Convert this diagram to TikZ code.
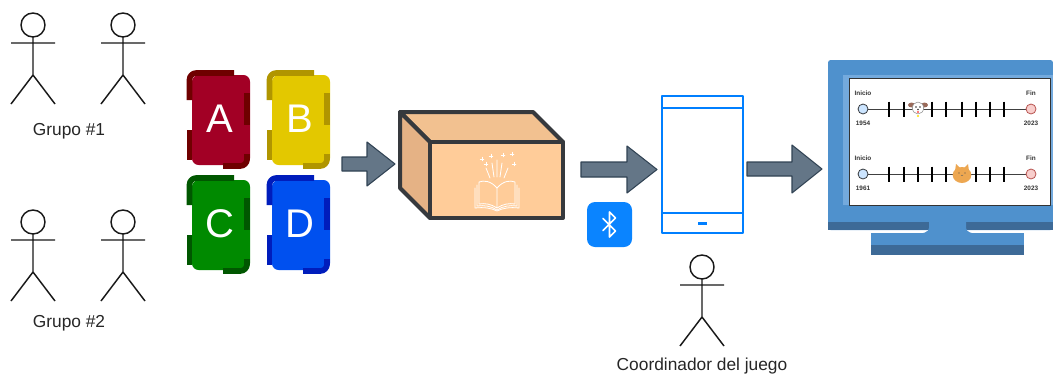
\documentclass[tikz,border=0pt]{standalone}
\usepackage{fontspec}
\setmainfont{Liberation Sans}
\definecolor{redF}{HTML}{A20025}\definecolor{redE}{HTML}{6F0000}
\definecolor{yelF}{HTML}{E3C800}\definecolor{yelE}{HTML}{B09500}
\definecolor{grnF}{HTML}{008A00}\definecolor{grnE}{HTML}{005700}
\definecolor{bluF}{HTML}{0050EF}\definecolor{bluE}{HTML}{001DBC}
\definecolor{arrF}{HTML}{647687}\definecolor{arrE}{HTML}{314354}
\definecolor{boxFront}{HTML}{FFCC99}\definecolor{boxTop}{HTML}{F2C190}
\definecolor{boxSide}{HTML}{E5B285}\definecolor{boxEdge}{HTML}{36393D}
\definecolor{phoneBlue}{HTML}{007FFF}\definecolor{btBlue}{HTML}{0A84FF}
\definecolor{monA}{HTML}{4F91CD}\definecolor{monB}{HTML}{3D6A97}
\definecolor{monC}{HTML}{74AADD}
\definecolor{startF}{HTML}{CCE5FF}\definecolor{startE}{HTML}{36393D}
\definecolor{endF}{HTML}{F8CECC}\definecolor{endE}{HTML}{B85450}
\definecolor{catF}{HTML}{EDA751}\definecolor{dogE}{HTML}{9A6A5A}

% one letter card with a broken, darker rim
\newcommand{\cardbox}[6]{%
  \begin{scope}[shift={(#2,#3)}]
    \fill[#4, rounded corners=5pt] (5,5) rectangle (63,95);
    \draw[#5, rimline, rounded corners=5pt] (2.5,30) -- (2.5,3) -- (47,3);
    \draw[#5, rimline] (60,23) -- (60,55);
    \draw[#5, rimline, rounded corners=5pt] (36,96) -- (60,96) -- (60,84);
    \draw[#5, rimline] (2.5,60) -- (2.5,90);
    \node[cardletter] (#1) at (33,49) {#6};
  \end{scope}}

% one time line on the screen
\newcommand{\timeline}[5]{%
  \begin{scope}[shift={(0,#1)}]
    \draw[line width=0.6pt, black!75] (863,0) -- (1031,0);
    \foreach \tx in {#3} \draw[line width=1.5pt, black] (\tx,-7.5) -- (\tx,7.5);
    \node[tlcircle, fill=startF, draw=startE] (#2s) at (863,0) {};
    \node[tlcircle, fill=endF, draw=endE] (#2e) at (1031,0) {};
    \node[tltext] (#2a) at (863,-16) {Inicio};
    \node[tltext] (#2b) at (1031,-16) {Fin};
    \node[tltext] (#2c) at (863,14) {#4};
    \node[tltext] (#2d) at (1031,14) {#5};
  \end{scope}}

\begin{document}
\begin{tikzpicture}[x=0.75pt, y=-0.75pt, line join=round,
  actorline/.style={line width=1.1pt, black!90},
  lbl/.style={font=\fontsize{13}{15}\selectfont, text=black!85, inner sep=0pt},
  cardletter/.style={font=\fontsize{30}{32}\selectfont, text=white, inner sep=0pt},
  rimline/.style={line width=4.2pt},
  blockarrow/.style={fill=arrF, draw=arrE, line width=0.8pt},
  boxface/.style={draw=boxEdge, line width=3pt},
  tlcircle/.style={circle, minimum size=7.5pt, inner sep=0pt, line width=0.6pt},
  tltext/.style={font=\fontsize{4.8}{5}\selectfont\bfseries, text=black!80, inner sep=0pt},
  actor/.pic={
    \draw[actorline] (0,0) circle[radius=9pt];
    \draw[actorline] (0,12) -- (0,50) (-22,18) -- (22,18) (-22,79) -- (0,50) -- (22,79);
  }]
\useasboundingbox (0,0) rectangle (1053,375);

% ---- players ----
\pic (p1) at (33,25) {actor};
\pic (p2) at (123,25) {actor};
\node[lbl] (grp1) at (69,131) {Grupo \#1};
\pic (p3) at (33,222) {actor};
\pic (p4) at (123,222) {actor};
\node[lbl] (grp2) at (69,323) {Grupo \#2};

% ---- answer cards ----
\cardbox{cardA}{187}{70}{redF}{redE}{A}
\cardbox{cardB}{267}{70}{yelF}{yelE}{B}
\cardbox{cardC}{187}{175}{grnF}{grnE}{C}
\cardbox{cardD}{267}{175}{bluF}{bluE}{D}

% ---- block arrows ----
\draw[blockarrow] (342,157) -- (367,157) -- (367,142) -- (395,164) -- (367,186) -- (367,171) -- (342,171) -- cycle;
\draw[blockarrow] (581,162) -- (627,162) -- (627,146) -- (657,169.5) -- (627,193) -- (627,177) -- (581,177) -- cycle;
\draw[blockarrow] (747,162) -- (792,162) -- (792,145) -- (822,169) -- (792,193) -- (792,176) -- (747,176) -- cycle;

% ---- box ----
\filldraw[boxface, fill=boxTop] (400,112) -- (533,112) -- (563,142) -- (430,142) -- cycle;
\filldraw[boxface, fill=boxSide] (400,112) -- (430,142) -- (430,218) -- (400,188) -- cycle;
\filldraw[boxface, fill=boxFront] (430,142) rectangle (563,218);
\node[inner sep=0pt, minimum size=1pt] (box) at (497,180) {};
% book with sparkles
\begin{scope}[white, line width=0.6pt, line cap=round]
  \draw (497,188) .. controls (491,181) and (484,180) .. (479,182) -- (479,204)
        .. controls (485,203) and (491,204) .. (497,208) -- cycle;
  \draw (497,188) .. controls (503,181) and (510,180) .. (515,182) -- (515,204)
        .. controls (509,203) and (503,204) .. (497,208);
  \draw (477,185) -- (477,206) .. controls (484,205) and (491,206) .. (497,210)
        .. controls (503,206) and (510,205) .. (517,206) -- (517,185);
  \draw (475,188) -- (475,208) .. controls (484,207) and (491,208) .. (497,211)
        .. controls (503,208) and (510,207) .. (519,208) -- (519,188);
  \draw (490,178) -- (486,168) (494,177) -- (492,163) (497,177) -- (497,160)
        (500,177) -- (502,163) (504,178) -- (508,168);
  \foreach \sx/\sy in {482/159, 491/156, 503/155, 512/154, 514/164, 486/164}
    \draw (\sx-1.8,\sy) -- (\sx+1.8,\sy) (\sx,\sy-1.8) -- (\sx,\sy+1.8);
\end{scope}

% ---- phone ----
\draw[phoneBlue, line width=2pt] (662,96) rectangle (743,233);
\draw[phoneBlue, line width=1.6pt] (662,108) -- (743,108) (662,213) -- (743,213);
\fill[phoneBlue] (698,221.5) rectangle (707,224.5);
\node[inner sep=0pt, minimum size=1pt] (phone) at (702,165) {};

% ---- bluetooth badge ----
\fill[btBlue, rounded corners=6pt] (587,202) rectangle (632,247);
\node[inner sep=0pt, minimum size=1pt] (bt) at (609.5,224.5) {};
\draw[white, line width=1.3pt, line cap=round] (603,218.5) -- (615.5,231) -- (609.5,237) -- (609.5,212) -- (615.5,218) -- (603,230.5);

% ---- coordinator ----
\pic (coord) at (702,267) {actor};
\node[lbl] (coordlbl) at (702,366) {Coordinador del juego};

% ---- monitor ----
\fill[monA, rounded corners=2pt] (828,60) rectangle (1053,230);
\fill[monB] (828,222) rectangle (1053,230);
\fill[monC] (843,75) rectangle (1053,205);
\fill[monA] (929,221) -- (966,221) -- (966,228) .. controls (966,232) and (972,234) .. (980,234)
            -- (915,234) .. controls (923,234) and (929,232) .. (929,228) -- cycle;
\fill[monA] (871,233) rectangle (1024,245);
\fill[monB] (871,245) rectangle (1024,255);
\node[draw=black!80, fill=white, line width=0.6pt, inner sep=0pt, minimum width=150.75pt, minimum height=95.25pt] (screen) at (949.5,141.5) {};

\timeline{109}{ta}{889,904,932,946,962,976,990,1004}{1954}{2023}
\timeline{174}{tb}{889,904,918,932,946,976,990,1004}{1961}{2023}

% dog face
\begin{scope}[shift={(918,108)}]
  \fill[dogE] (-6.5,-3) ellipse[x radius=2.6pt, y radius=1.8pt];
  \fill[dogE] (6.5,-3) ellipse[x radius=2.6pt, y radius=1.8pt];
  \filldraw[fill=white, draw=black!45, line width=0.4pt] (0,0) ellipse[x radius=4.2pt, y radius=4.5pt];
  \fill[black!80] (-2,-1) circle[radius=0.6pt] (2,-1) circle[radius=0.6pt] (0,1.5) circle[radius=0.7pt];
  \fill[red!70] (0,4) circle[radius=0.8pt];
  \fill[yellow!80!orange] (0,8) circle[radius=0.9pt];
  \node[inner sep=0pt, minimum size=1pt] (dog) at (0,0) {};
\end{scope}
% cat face
\begin{scope}[shift={(962,174)}]
  \fill[catF] (-7,-3) -- (-6,-10) -- (-2,-6) -- (2,-6) -- (6,-10) -- (7,-3) -- cycle;
  \fill[catF] (0,1) ellipse[x radius=7pt, y radius=6pt];
  \fill[black!70] (-3,-1) circle[radius=0.5pt] (3,-1) circle[radius=0.5pt];
  \draw[black!60, line width=0.3pt] (-1,1) -- (0,1.8) -- (1,1);
  \node[inner sep=0pt, minimum size=1pt] (cat) at (0,0) {};
\end{scope}
\end{tikzpicture}
\end{document}
